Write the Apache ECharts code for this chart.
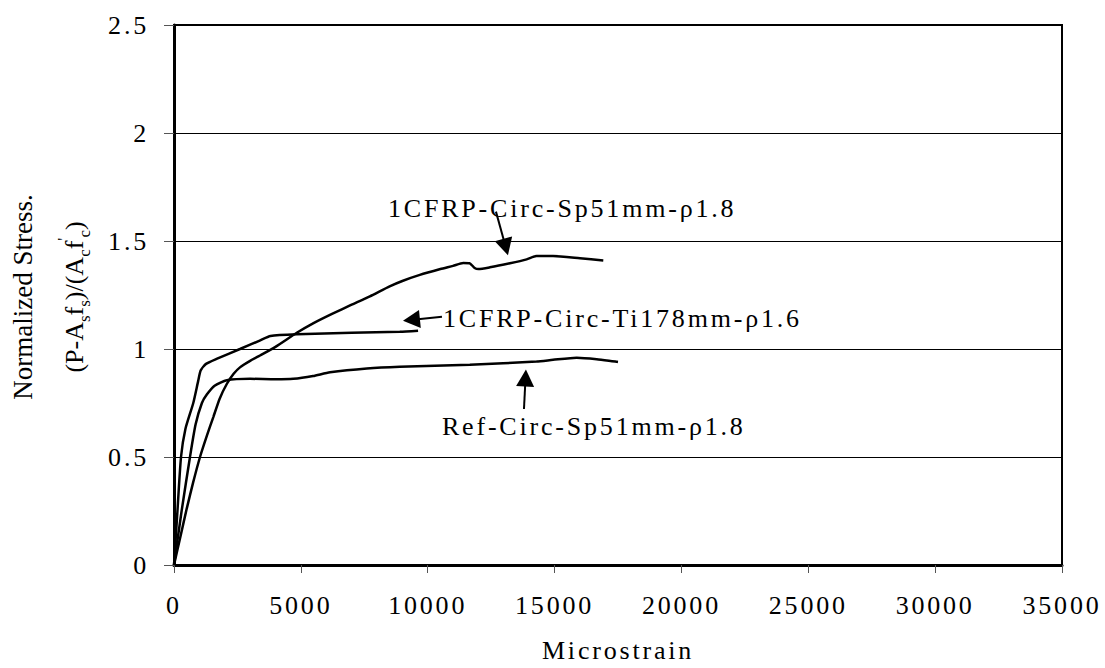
<!DOCTYPE html>
<html>
<head>
<meta charset="utf-8">
<script src="https://cdn.jsdelivr.net/npm/echarts@6/dist/echarts.min.js"></script>
<style>
  html, body { margin: 0; padding: 0; background: #fff; }
  #chart { width: 1105px; height: 668px; }
  /* spaced-out lettering for tick labels, axis title and curve captions */
  #chart text[style*="Times New Roman"] { letter-spacing: 2.8px; }
</style>
</head>
<body>
<div id="chart"></div>
<script>
// Axis ranges
const xRange = { min: 0, max: 35000, interval: 5000 };
const yRange = { min: 0, max: 2.5, interval: 0.5 };

// Stress-strain curves: [microstrain, normalized stress]
const cfrpSp51 = [
  [0, 0], [250, 0.13], [500, 0.26], [750, 0.38], [1025, 0.5], [1300, 0.6],
  [1550, 0.685], [1800, 0.77], [2080, 0.838], [2350, 0.885], [2600, 0.915],
  [3000, 0.945], [3390, 0.97], [4000, 1.01], [4840, 1.075], [5500, 1.12],
  [6270, 1.165], [7000, 1.205], [7720, 1.244], [8500, 1.29], [9000, 1.315],
  [9690, 1.343], [10500, 1.37], [11000, 1.385], [11400, 1.398], [11650, 1.397],
  [11850, 1.375], [12000, 1.37], [12450, 1.378], [13240, 1.397], [13900, 1.415],
  [14290, 1.43], [14940, 1.43], [16000, 1.42], [16920, 1.41]
];
const cfrpTi178 = [
  [0, 0], [120, 0.22], [276, 0.5], [450, 0.63], [760, 0.75], [950, 0.85],
  [1050, 0.9], [1250, 0.93], [1700, 0.955], [2600, 1.0], [3400, 1.04],
  [3800, 1.06], [4840, 1.068], [7000, 1.075], [8900, 1.08], [9620, 1.085]
];
const refSp51 = [
  [0, 0], [300, 0.25], [630, 0.5], [850, 0.65], [1100, 0.75], [1300, 0.79],
  [1600, 0.83], [2080, 0.855], [3000, 0.862], [4000, 0.86], [4700, 0.862],
  [5480, 0.875], [6150, 0.892], [7600, 0.91], [8900, 0.918], [11660, 0.927],
  [14290, 0.942], [14940, 0.95], [15870, 0.96], [16660, 0.953], [17500, 0.94]
];

// Curve captions with their leader arrows (data coordinates)
const captionTexts = ['1CFRP-Circ-Sp51mm-ρ1.8', '1CFRP-Circ-Ti178mm-ρ1.6', 'Ref-Circ-Sp51mm-ρ1.8'];
const captionAnchors = [[8434, 1.650], [10601, 1.140], [10562, 0.639]];
const arrowTails = [[12690, 1.636], [10562, 1.149], [13794, 0.722]];
const arrowTips = [[13163, 1.434], [9025, 1.131], [13872, 0.905]];

const SPACED = "'Times New Roman', 'Liberation Serif', serif";
const PLAIN = "'Liberation Serif', serif";

const chart = echarts.init(document.getElementById('chart'), null, { renderer: 'svg' });

const lineSeries = (name, data) => ({
  name, type: 'line', data, showSymbol: false, smooth: 0.2,
  lineStyle: { color: '#000', width: 2.5 }, animation: false, z: 3
});

chart.setOption({
  backgroundColor: '#fff',
  animation: false,
  grid: {
    left: 174, right: 43, top: 25, bottom: 99,
    show: true, borderColor: '#000', borderWidth: 2, backgroundColor: 'transparent'
  },
  xAxis: {
    type: 'value', min: xRange.min, max: xRange.max, interval: xRange.interval,
    name: 'Microstrain', nameLocation: 'middle', nameGap: 72,
    nameTextStyle: { color: '#000', fontSize: 26, fontFamily: SPACED },
    axisLine: { lineStyle: { color: '#000', width: 3 } },
    axisTick: { length: 8, lineStyle: { color: '#555', width: 1 } },
    axisLabel: { color: '#000', fontSize: 26, fontFamily: SPACED, margin: 27, formatter: v => String(v) },
    splitLine: { show: false }
  },
  yAxis: {
    type: 'value', min: yRange.min, max: yRange.max, interval: yRange.interval,
    axisLine: { show: true, lineStyle: { color: '#000', width: 3 } },
    axisTick: { show: true, length: 10, lineStyle: { color: '#555', width: 1 } },
    axisLabel: { color: '#000', fontSize: 26, fontFamily: SPACED, margin: 25, formatter: v => String(v) },
    splitLine: { show: true, lineStyle: { color: '#000', width: 1 } }
  },
  series: [
    lineSeries('1CFRP-Circ-Sp51mm-ρ1.8', cfrpSp51),
    lineSeries('1CFRP-Circ-Ti178mm-ρ1.6', cfrpTi178),
    lineSeries('Ref-Circ-Sp51mm-ρ1.8', refSp51)
  ]
});

// Leader arrow from a caption to its curve
function arrow(from, to) {
  const p0 = chart.convertToPixel({ gridIndex: 0 }, from);
  const p1 = chart.convertToPixel({ gridIndex: 0 }, to);
  const dx = p1[0] - p0[0], dy = p1[1] - p0[1];
  const len = Math.hypot(dx, dy);
  const ux = dx / len, uy = dy / len;
  const headLen = 17, headHalf = 9;
  const bx = p1[0] - ux * headLen, by = p1[1] - uy * headLen;
  return [
    { type: 'line', silent: true, z: 10,
      shape: { x1: p0[0], y1: p0[1], x2: bx + ux * 2, y2: by + uy * 2 },
      style: { stroke: '#000', lineWidth: 2 } },
    { type: 'polygon', silent: true, z: 10,
      shape: { points: [[p1[0], p1[1]], [bx - uy * headHalf, by + ux * headHalf], [bx + uy * headHalf, by - ux * headHalf]] },
      style: { fill: '#000' } }
  ];
}

const graphics = [];
captionTexts.forEach((t, i) => {
  const p = chart.convertToPixel({ gridIndex: 0 }, captionAnchors[i]);
  graphics.push({
    type: 'text', x: p[0], y: p[1], silent: true, z: 10,
    style: { text: t, fill: '#000', fontSize: 26, fontFamily: SPACED, align: 'left', verticalAlign: 'middle' }
  });
  graphics.push(...arrow(arrowTails[i], arrowTips[i]));
});

// Vertical axis title, two lines reading bottom to top
graphics.push({
  type: 'text', x: 23, y: 297, rotation: Math.PI / 2, silent: true,
  style: { text: 'Normalized Stress.', fill: '#000', fontSize: 27, fontFamily: PLAIN, align: 'center', verticalAlign: 'middle' }
});
graphics.push({
  type: 'text', x: 74, y: 297, rotation: Math.PI / 2, silent: true,
  style: {
    text: '{n|(P-A}{s|s}{n|f}{s|s}{n|)/(A}{s|c}{n|f}{p|\'}{s|c}{n|)}',
    align: 'center', verticalAlign: 'middle',
    rich: {
      n: { fontSize: 26, fontFamily: PLAIN, color: '#000', lineHeight: 38, verticalAlign: 'middle' },
      s: { fontSize: 17, fontFamily: PLAIN, color: '#000', lineHeight: 17, verticalAlign: 'bottom' },
      p: { fontSize: 17, fontFamily: PLAIN, color: '#000', lineHeight: 17, verticalAlign: 'top' }
    }
  }
});

chart.setOption({ graphic: graphics });
</script>
</body>
</html>
